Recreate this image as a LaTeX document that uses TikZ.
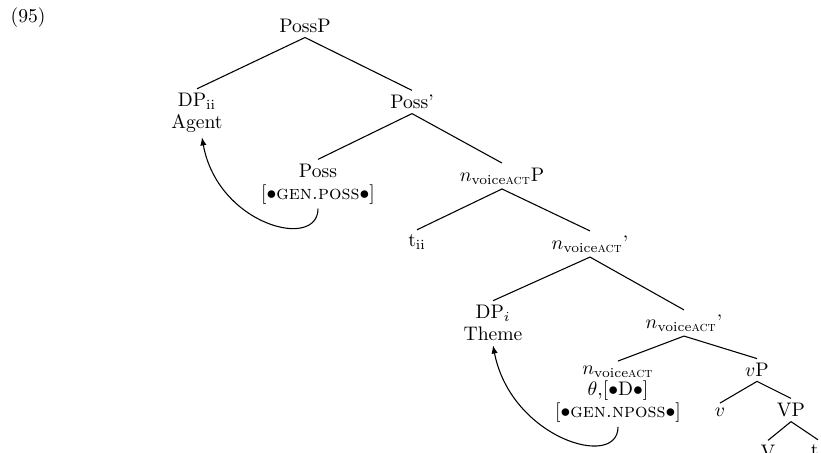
\documentclass[tikz,border=0pt]{standalone}
\usepackage{amsmath}
\usetikzlibrary{arrows.meta}
\newcommand{\nvoice}{$n_{\text{voice\textsc{act}}}$}
\begin{document}
\begin{tikzpicture}[x=0.51pt,y=-0.51pt,
  lbl/.style={inner sep=2.2pt, align=center, font=\fontsize{10pt}{11pt}\selectfont},
  branch/.style={line width=0.55pt},
  move/.style={line width=0.55pt, -{Latex[length=4.2pt,width=3.2pt]}}]
\useasboundingbox (0,0) rectangle (821,453);
\clip (0,0) rectangle (821,453);

% example number
\node[lbl, anchor=west] (ex) at (6,18) {(95)};

% tree nodes
\node[lbl] (possp)   at (305,26)  {PossP};
\node[lbl] (dpii)    at (197,113) {DP$_{\mathrm{ii}}$\\Agent};
\node[lbl] (possbar) at (412,102) {Poss'};
\node[lbl] (poss)    at (318,184) {Poss\\{}[$\bullet$\textsc{gen.poss}$\bullet$]};
\node[lbl] (np)      at (502,176) {\nvoice P};
\node[lbl] (tii)     at (417,242) {t$_{\mathrm{ii}}$};
\node[lbl] (nbarA)   at (590,244) {\nvoice'};
\node[lbl] (dpi)     at (493,323) {DP$_i$\\Theme};
\node[lbl] (nbarB)   at (684,323) {\nvoice'};
\node[lbl] (nhead)   at (618,394) {\nvoice\\$\theta$,[$\bullet$D$\bullet$]\\{}[$\bullet$\textsc{gen.nposs}$\bullet$]};
\node[lbl] (vp)      at (757,370) {$v$P};
\node[lbl] (v)       at (720,412) {$v$};
\node[lbl] (VP)      at (791,410) {VP};
\node[lbl] (V)       at (768,452) {V};
\node[lbl] (ti)      at (818,452) {t$_i$};

% branches
\draw[branch] (possp.south) -- (dpii.north);
\draw[branch] (possp.south) -- (possbar.north);
\draw[branch] (possbar.south) -- (poss.north);
\draw[branch] (possbar.south) -- (np.north);
\draw[branch] (np.south) -- (tii.north);
\draw[branch] (np.south) -- (nbarA.north);
\draw[branch] (nbarA.south) -- (dpi.north);
\draw[branch] (nbarA.south) -- (nbarB.north);
\draw[branch] (nbarB.south) -- (nhead.north);
\draw[branch] (nbarB.south) -- (vp.north);
\draw[branch] (vp.south) -- (v.north);
\draw[branch] (vp.south) -- (VP.north);
\draw[branch] (VP.south) -- (V.north);
\draw[branch] (VP.south) -- (ti.north);

% movement arrows
\draw[move] (poss.south) .. controls +(0,42) and +(16,88) .. ([xshift=2.5pt]dpii.south);
\draw[move] (nhead.south) .. controls +(0,43) and +(18,93) .. (dpi.south);
\end{tikzpicture}
\end{document}
